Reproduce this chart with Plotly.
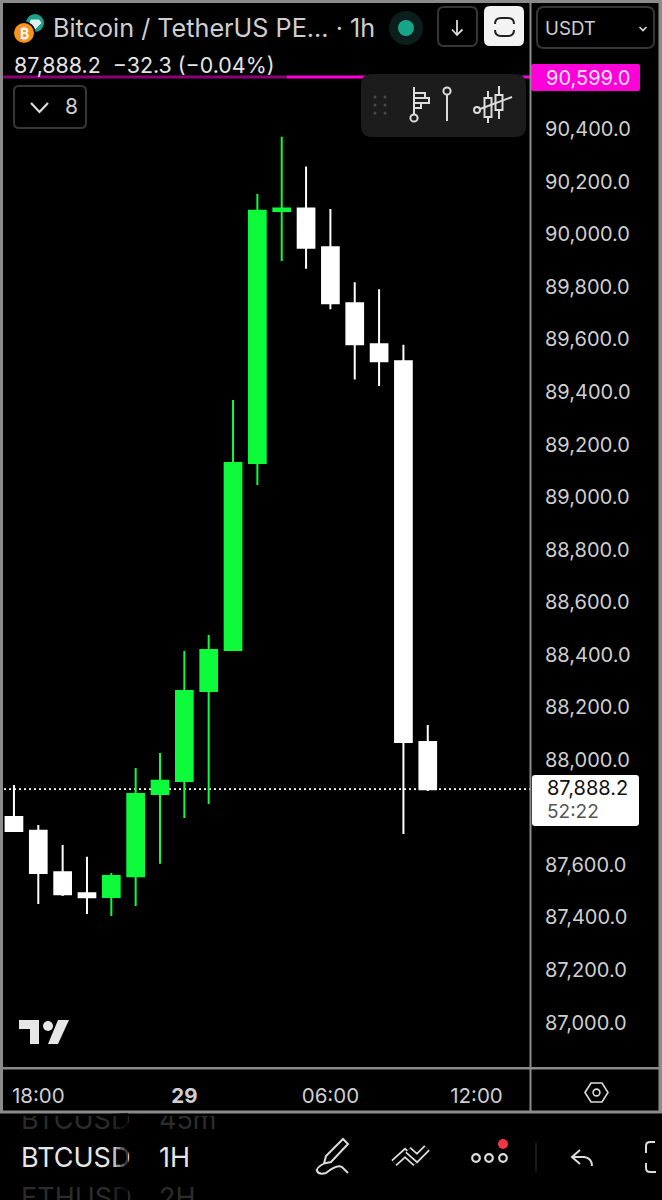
import pandas as pd
import plotly.graph_objects as go

W, H = 662, 1200

# hourly candles
times = pd.date_range("2025-11-28 17:00", periods=18, freq="h")
opens = [87782, 87730, 87572, 87492, 87478, 87557, 87870, 87919, 88262, 88418, 89130, 90089, 90099, 89951, 89738, 89582, 89517, 88068]
highs = [87904, 87752, 87676, 87631, 87569, 87969, 88026, 88414, 88475, 89370, 90154, 90372, 90258, 90097, 89818, 89791, 89580, 88132]
lows = [87725, 87451, 87482, 87413, 87405, 87443, 87604, 87778, 87832, 88418, 89046, 89899, 89869, 89715, 89448, 89423, 87718, 87881]
closes = [87729, 87569, 87488, 87477, 87558, 87870, 87920, 88262, 88418, 89130, 90090, 90099, 89949, 89738, 89582, 89517, 88068, 87888.2]

last_price = 87888.2
alert_price = 90599.0
price_ticks = [87000 + 200 * i for i in range(18)]
time_ticks = ["2025-11-28 18:00", "2025-11-29 00:00", "2025-11-29 06:00", "2025-11-29 12:00"]
time_labels = ["18:00", "<b>29</b>", "06:00", "12:00"]

GREEN = "#0dfb3a"
FRAME = "#8b8b8b"
TEXT = "#cfcfcf"
ICON = "#dcdcdc"
BORDER = "#363636"
FONT = "Inter"

shapes = []
notes = []


def rect(x0, y0, x1, y1, fill, **kw):
    shapes.append(dict(type="rect", xref="x2", yref="y2", x0=x0, y0=y0, x1=x1, y1=y1,
                       fillcolor=fill, line_width=0, **kw))


def rrect(x0, y0, x1, y1, r, fill="rgba(0,0,0,0)", line="rgba(0,0,0,0)", width=2):
    p = (f"M{x0+r},{y0} L{x1-r},{y0} Q{x1},{y0} {x1},{y0+r} L{x1},{y1-r} Q{x1},{y1} {x1-r},{y1} "
         f"L{x0+r},{y1} Q{x0},{y1} {x0},{y1-r} L{x0},{y0+r} Q{x0},{y0} {x0+r},{y0} Z")
    shapes.append(dict(type="path", xref="x2", yref="y2", path=p, fillcolor=fill,
                       line=dict(color=line, width=width)))


def path(p, color=ICON, width=2, fill="rgba(0,0,0,0)"):
    shapes.append(dict(type="path", xref="x2", yref="y2", path=p, fillcolor=fill,
                       line=dict(color=color, width=width)))


def poly(pts, color=ICON, width=2):
    path("M" + " L".join(f"{x},{y}" for x, y in pts), color, width)


def circle(cx, cy, r, fill="rgba(0,0,0,0)", line="rgba(0,0,0,0)", width=2):
    shapes.append(dict(type="circle", xref="x2", yref="y2", x0=cx-r, y0=cy-r, x1=cx+r, y1=cy+r,
                       fillcolor=fill, line=dict(color=line, width=width)))


def label(x, y, text, size, color=TEXT, anchor="left"):
    notes.append(dict(x=x, y=y, xref="x2", yref="y2", text=text, showarrow=False, xanchor=anchor,
                      yanchor="middle", borderpad=0, font=dict(family=FONT, size=size, color=color)))


# lines behind the candles
shapes.append(dict(type="line", xref="x2", yref="y", x0=4, x1=530, y0=last_price, y1=last_price,
                   layer="below", line=dict(color="#ffffff", width=1.6, dash="2px,3px")))

# alert line and its label
shapes.append(dict(type="line", xref="x2", yref="y", x0=3, x1=530, y0=alert_price, y1=alert_price,
                   line=dict(color="#ff00d9", width=3)))
rect(3, 72, 287, 82, "rgba(0,0,0,0.45)")
rrect(531, 64, 640, 91, 2, fill="#ff00d9")
label(545, 77.5, "90,599.0", 20, "#fbe3f8")

# frame
rect(0, 0, 662, 3, FRAME)
rect(0, 0, 3, 1112, FRAME)
rect(658.5, 0, 662, 1112, FRAME)
rect(529.5, 3, 531.5, 1112, FRAME)
rect(0, 1067, 662, 1069.5, FRAME)
rect(0, 1110.5, 662, 1113.5, FRAME)

# header: logos and title
circle(35, 23, 9, fill="#1fa08d")
path("M31,20 L39,20 L41,23 L35,29 L30,23 Z", "#d8f2ec", 1, "#d8f2ec")
circle(24, 33, 11.5, fill="#000000")
circle(24, 33, 10, fill="#f7931a")
label(24, 33.5, "<b>₿</b>", 14, "#ffffff", "center")
label(52, 28, "Bitcoin / TetherUS PE... · 1h", 25.2)
label(13, 65, "87,888.2  −32.3 (−0.04%)", 21.4, "#e4e4e4")

circle(406, 28, 17, fill="#0a1f1c")
circle(406, 28, 8, fill="#17a589")

rrect(438, 7, 477, 46, 6, line=BORDER)
poly([(457, 20), (457, 35)], ICON, 1.8)
poly([(452, 29.5), (457, 35), (462.5, 29.5)], ICON, 1.8)

rrect(484, 6, 524, 46, 6, fill="#f3f3f3")
path("M495,24 Q495,18 501,18 L508,18 Q514,18 514,24", "#222222", 2)
path("M495,30 Q495,36 501,36 L508,36 Q514,36 514,30", "#222222", 2)

rrect(537, 7, 654, 48, 7, line=BORDER)
label(544, 28, "USDT", 18.7)
poly([(639.5, 27), (643, 30.5), (646.5, 27)], ICON, 1.6)

rrect(14, 86, 86, 128, 5, line=BORDER)
poly([(31, 103), (39.5, 112), (48, 103)], ICON, 2.2)
label(71, 106.5, "8", 21, TEXT, "center")

# floating drawing toolbar
rrect(361, 74, 526, 137, 11, fill="#1c1c1c")
for gx in (375, 385):
    for gy in (97, 105, 113):
        circle(gx, gy, 1.5, fill="#4a4a4a")
poly([(414, 87), (414, 114)], ICON, 2)
circle(414, 118, 3.6, line=ICON)
poly([(414, 93), (425, 93), (425, 98), (429, 98), (429, 103), (421, 103), (421, 108), (414, 108)], ICON, 2)
poly([(414, 98), (425, 98)], ICON, 2)
poly([(414, 103), (421, 103)], ICON, 2)
circle(447, 91, 3.6, line=ICON)
poly([(447, 95), (447, 121)], ICON, 2)
poly([(488, 91), (488, 98)], ICON, 2)
poly([(488, 117), (488, 123)], ICON, 2)
rrect(484.5, 98, 491.5, 117, 0, line=ICON)
poly([(499, 86), (499, 95)], ICON, 2)
poly([(499, 110), (499, 119)], ICON, 2)
rrect(495.5, 95, 502.5, 110, 0, line=ICON)
circle(477, 110, 3, line=ICON)
poly([(480, 109), (512, 97)], ICON, 2)

# tradingview mark
tv = "#e6e6e6"
path("M19,1020 L39,1020 L39,1044 L30,1044 L30,1029 L19,1029 Z", tv, 0, tv)
circle(48, 1026, 5, fill=tv)
path("M58,1020 L69,1020 L58,1044 L48,1044 Z", tv, 0, tv)

# settings hexagon
path("M585,1092.5 L591,1083 L602,1083 L608,1092.5 L602,1102 L591,1102 Z", ICON, 1.6)
circle(596.5, 1092.5, 3.4, line=ICON, width=1.6)

# price tag of the last candle
rrect(532, 775, 639, 826, 3, fill="#ffffff")
label(546, 788, "87,888.2", 20, "#111111")
label(546, 811, "52:22", 19, "#555555")

# bottom bar icons
path("M343,1139 L348,1144 L331,1162 L324,1163.5 L326,1156 Z", ICON, 2)
path("M323,1164 Q316,1168 317,1171 Q319,1175 326,1173 Q337,1164 342,1167 L348,1173", ICON, 2)
for pts in ([(394, 1163), (405, 1153), (416, 1163)], [(408, 1150), (417, 1158), (427, 1148)]):
    poly(pts, ICON, 8)
    poly(pts, "#000000", 4.5)
for cx in (476, 489, 503):
    circle(cx, 1158, 3.8, line=ICON, width=2.2)
circle(503, 1144, 5, fill="#f23645")
poly([(536, 1143), (536, 1172)], "#222222", 1.5)
poly([(580, 1150), (572, 1157), (580, 1164)], ICON, 2)
path("M572,1157 L584,1157 Q592,1158 592,1166", ICON, 2)
path("M655,1142 L650,1142 Q646,1142 646,1146 L646,1153", ICON, 2)
path("M646,1163 L646,1168 Q646,1172 650,1172 L656,1172", ICON, 2)

# the fading end of the symbol column
for i, a in enumerate((0.15, 0.35, 0.55, 0.75)):
    rect(112 + i * 4, 1113, 116 + i * 4, 1200, f"rgba(0,0,0,{a})")

# symbol picker wheel, in a strip of its own so its rows get clipped at the frame
wheel_x = [21, 159, 21, 159, 21, 159]
wheel_y = [1122, 1122, 1160, 1160, 1200, 1200]
wheel_text = ["BTCUSD", "45m", "BTCUSD", "1H", "ETHUSD", "2H"]
wheel_colors = ["#2c2c2c", "#2c2c2c", "#e6e6e6", "#e6e6e6", "#2c2c2c", "#2c2c2c"]

fig = go.Figure()
fig.add_trace(go.Candlestick(
    x=times, open=opens, high=highs, low=lows, close=closes,
    whiskerwidth=0,
    increasing=dict(line=dict(color=GREEN, width=2), fillcolor=GREEN),
    decreasing=dict(line=dict(color="#ffffff", width=2), fillcolor="#ffffff"),
    hoverinfo="skip",
))
fig.add_trace(go.Scatter(
    x=wheel_x, y=wheel_y, xaxis="x3", yaxis="y3", mode="text", text=wheel_text,
    textposition="middle right", cliponaxis=True, hoverinfo="skip",
    textfont=dict(family=FONT, size=27, color=wheel_colors),
))

fig.update_layout(
    width=W, height=H, margin=dict(l=0, r=0, t=0, b=0), autosize=False,
    # transparent: the invisible full-page axes would otherwise paint over the candles
    paper_bgcolor="#000000", plot_bgcolor="rgba(0,0,0,0)", showlegend=False, boxgap=0.02,
    hovermode=False,
    shapes=shapes, annotations=notes,
    xaxis=dict(domain=[3 / W, 530 / W], range=["2025-11-28 16:33", "2025-11-29 14:12"],
               rangeslider=dict(visible=False), showgrid=False, zeroline=False, showline=False,
               tickmode="array", tickvals=time_ticks, ticktext=time_labels, ticks="",
               ticklabelstandoff=13, tickfont=dict(family=FONT, size=20.5, color=TEXT)),
    yaxis=dict(domain=[(H - 1068) / H, 1 - 3 / H], range=[86826.8, 90880.8], side="right",
               showgrid=False, zeroline=False, showline=False, tickmode="array",
               tickvals=price_ticks, tickformat=",.1f", ticks="", ticklabelstandoff=14,
               tickfont=dict(family=FONT, size=20, color=TEXT)),
    xaxis2=dict(domain=[0, 1], range=[0, W], visible=False, anchor="y2"),
    yaxis2=dict(domain=[0, 1], range=[H, 0], visible=False, anchor="x2"),
    xaxis3=dict(domain=[0, 1], range=[0, W], visible=False, anchor="y3"),
    yaxis3=dict(domain=[0, (H - 1116) / H], range=[H, 1116], visible=False, anchor="x3"),
)

fig.write_html("out.html", config=dict(displayModeBar=False),
               post_script="document.body.style.margin='0';document.body.style.background='#000';")
